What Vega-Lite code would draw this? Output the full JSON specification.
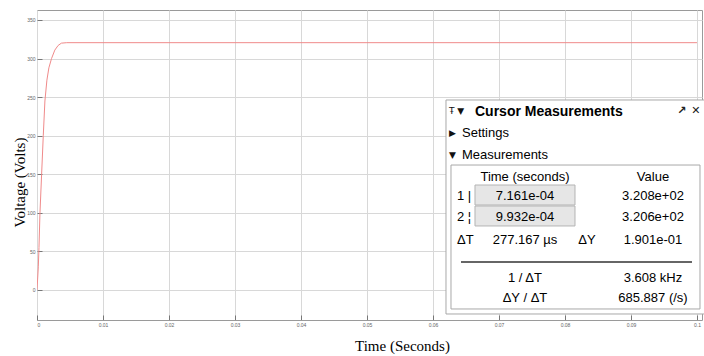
{
  "$schema": "https://vega.github.io/schema/vega-lite/v6.json",
  "width": 665,
  "height": 310,
  "autosize": {"type": "none"},
  "padding": {"left": 37, "top": 10, "right": 2, "bottom": 36},
  "background": "white",
  "config": {
    "view": {"stroke": "#9a9a9a", "strokeWidth": 1},
    "axis": {
      "grid": true, "gridColor": "#d8d8d8", "gridWidth": 1,
      "domain": false, "tickColor": "#777", "tickSize": -5, "labelPadding": 7,
      "labelFont": "Liberation Sans", "labelFontSize": 5, "labelColor": "#666",
      "titleFont": "Liberation Serif", "titleFontSize": 15, "titleFontWeight": "normal", "titleColor": "#000"
    }
  },
  "datasets": {
    "curve": [
      {"t": 0, "v": 0}, {"t": 0.0002, "v": 30}, {"t": 0.0003, "v": 55}, {"t": 0.00045, "v": 100},
      {"t": 0.0007, "v": 150}, {"t": 0.00095, "v": 200}, {"t": 0.0012, "v": 245}, {"t": 0.0015, "v": 272},
      {"t": 0.0018, "v": 288}, {"t": 0.0022, "v": 300}, {"t": 0.0027, "v": 311}, {"t": 0.0032, "v": 317},
      {"t": 0.0037, "v": 320}, {"t": 0.0045, "v": 320.6}, {"t": 0.02, "v": 320.6}, {"t": 0.05, "v": 320.6},
      {"t": 0.1, "v": 320.6}
    ],
    "outer": [{"x": 0.06197, "x2": 0.10121, "y": 246.3, "y2": -31.1}],
    "inner": [{"x": 0.062727, "x2": 0.100455, "y": 162.0, "y2": -24.6}],
    "cells": [
      {"x": 0.066364, "x2": 0.081515, "y": 136.1, "y2": 110.2},
      {"x": 0.066364, "x2": 0.081515, "y": 108.9, "y2": 83.0}
    ],
    "sep": [{"x": 0.064242, "x2": 0.099242, "y": 36.3}],
    "title": [{"x": 0.066364, "y": 230.7, "label": "Cursor Measurements"}],
    "lefttext": [
      {"x": 0.064394, "y": 203.5, "label": "Settings"},
      {"x": 0.064394, "y": 175.0, "label": "Measurements"},
      {"x": 0.063636, "y": 121.9, "label": "1 |"},
      {"x": 0.063636, "y": 94.6, "label": "2 ¦"},
      {"x": 0.063636, "y": 64.8, "label": "ΔT"}
    ],
    "icons": [
      {"x": 0.062424, "y": 231.5, "label": "Ŧ ▼"},
      {"x": 0.062424, "y": 203.5, "label": "▶"},
      {"x": 0.062424, "y": 175.0, "label": "▼"}
    ],
    "ricons": [
      {"x": 0.097727, "y": 232.5, "label": "↗"},
      {"x": 0.099848, "y": 232.5, "label": "✕"}
    ],
    "centertext": [
      {"x": 0.073939, "y": 146.5, "label": "Time (seconds)"},
      {"x": 0.093333, "y": 146.5, "label": "Value"},
      {"x": 0.073939, "y": 121.9, "label": "7.161e-04"},
      {"x": 0.093333, "y": 121.9, "label": "3.208e+02"},
      {"x": 0.073939, "y": 94.6, "label": "9.932e-04"},
      {"x": 0.093333, "y": 94.6, "label": "3.206e+02"},
      {"x": 0.073939, "y": 64.8, "label": "277.167 µs"},
      {"x": 0.083333, "y": 64.8, "label": "ΔY"},
      {"x": 0.093333, "y": 64.8, "label": "1.901e-01"},
      {"x": 0.073939, "y": 15.6, "label": "1 / ΔT"},
      {"x": 0.093333, "y": 15.6, "label": "3.608 kHz"},
      {"x": 0.073939, "y": -10.4, "label": "ΔY / ΔT"},
      {"x": 0.093333, "y": -10.4, "label": "685.887 (/s)"}
    ]
  },
  "layer": [
    {
      "data": {"name": "curve"},
      "mark": {"type": "line", "color": "#f08a8a", "strokeWidth": 1, "clip": true},
      "encoding": {
        "x": {"field": "t", "type": "quantitative",
          "scale": {"domain": [0, 0.10076], "nice": false, "zero": false},
          "axis": {"values": [0, 0.01, 0.02, 0.03, 0.04, 0.05, 0.06, 0.07, 0.08, 0.09, 0.1], "format": "~g",
            "title": "Time (Seconds)", "titleX": 365, "titleY": 25, "titleBaseline": "middle", "titleAnchor": null}},
        "y": {"field": "v", "type": "quantitative",
          "scale": {"domain": [-38.89, 362.96], "nice": false, "zero": false},
          "axis": {"values": [0, 50, 100, 150, 200, 250, 300, 350], "format": "d",
            "title": "Voltage (Volts)", "titleX": -18, "titleY": 172, "titleAngle": -90, "titleBaseline": "middle", "titleAlign": "center"}}
      }
    },
    {
      "data": {"name": "outer"},
      "mark": {"type": "rect", "fill": "white", "stroke": "#a8a8a8", "strokeWidth": 1},
      "encoding": {
        "x": {"field": "x", "type": "quantitative"}, "x2": {"field": "x2"},
        "y": {"field": "y", "type": "quantitative"}, "y2": {"field": "y2"}
      }
    },
    {
      "data": {"name": "inner"},
      "mark": {"type": "rect", "fill": "white", "stroke": "#a8a8a8", "strokeWidth": 1},
      "encoding": {
        "x": {"field": "x", "type": "quantitative"}, "x2": {"field": "x2"},
        "y": {"field": "y", "type": "quantitative"}, "y2": {"field": "y2"}
      }
    },
    {
      "data": {"name": "cells"},
      "mark": {"type": "rect", "fill": "#e6e6e6", "stroke": "#b4b4b4", "strokeWidth": 1},
      "encoding": {
        "x": {"field": "x", "type": "quantitative"}, "x2": {"field": "x2"},
        "y": {"field": "y", "type": "quantitative"}, "y2": {"field": "y2"}
      }
    },
    {
      "data": {"name": "sep"},
      "mark": {"type": "rule", "color": "#333", "strokeWidth": 1.5},
      "encoding": {
        "x": {"field": "x", "type": "quantitative"}, "x2": {"field": "x2"},
        "y": {"field": "y", "type": "quantitative"}
      }
    },
    {
      "data": {"name": "title"},
      "mark": {"type": "text", "align": "left", "baseline": "middle", "font": "Liberation Sans", "fontSize": 14, "fontWeight": "bold", "color": "#000"},
      "encoding": {
        "x": {"field": "x", "type": "quantitative"},
        "y": {"field": "y", "type": "quantitative"},
        "text": {"field": "label"}
      }
    },
    {
      "data": {"name": "icons"},
      "mark": {"type": "text", "align": "left", "baseline": "middle", "font": "DejaVu Sans", "fontSize": 9, "color": "#111"},
      "encoding": {
        "x": {"field": "x", "type": "quantitative"},
        "y": {"field": "y", "type": "quantitative"},
        "text": {"field": "label"}
      }
    },
    {
      "data": {"name": "ricons"},
      "mark": {"type": "text", "align": "center", "baseline": "middle", "font": "DejaVu Sans", "fontSize": 11, "fontWeight": "bold", "color": "#222"},
      "encoding": {
        "x": {"field": "x", "type": "quantitative"},
        "y": {"field": "y", "type": "quantitative"},
        "text": {"field": "label"}
      }
    },
    {
      "data": {"name": "lefttext"},
      "mark": {"type": "text", "align": "left", "baseline": "middle", "font": "Liberation Sans", "fontSize": 13, "color": "#000"},
      "encoding": {
        "x": {"field": "x", "type": "quantitative"},
        "y": {"field": "y", "type": "quantitative"},
        "text": {"field": "label"}
      }
    },
    {
      "data": {"name": "centertext"},
      "mark": {"type": "text", "align": "center", "baseline": "middle", "font": "Liberation Sans", "fontSize": 13, "color": "#000"},
      "encoding": {
        "x": {"field": "x", "type": "quantitative"},
        "y": {"field": "y", "type": "quantitative"},
        "text": {"field": "label"}
      }
    }
  ]
}
